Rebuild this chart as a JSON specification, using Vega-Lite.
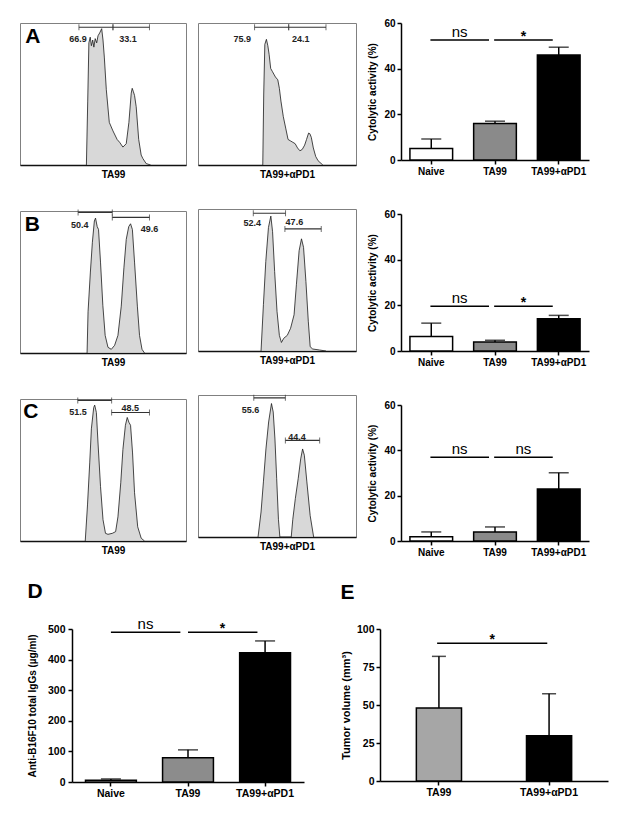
{
"$schema": "https://vega.github.io/schema/vega-lite/v6.json",
"background": "white",
"padding": {"left": 19, "top": 18, "right": 4, "bottom": 4},
"config": {
  "font": "Liberation Sans",
  "view": {"stroke": null},
  "axis": {"labelFont": "Liberation Sans", "titleFont": "Liberation Sans", "labelFontWeight": "bold", "titleFontWeight": "bold", "labelFontSize": 10, "titleFontSize": 10, "labelColor": "black", "titleColor": "black", "domainColor": "black", "tickColor": "black", "domainWidth": 1.5, "tickWidth": 1.5, "tickSize": 4, "labelPadding": 2, "grid": false, "labelOverlap": false},
  "text": {"font": "Liberation Sans"},
  "title": {"font": "Liberation Sans"}
},
"datasets": {
  "hist": [
    {"p":"A1","x":40,"y":0},{"p":"A1","x":40.8,"y":45},{"p":"A1","x":41.5,"y":86},{"p":"A1","x":42.3,"y":90},{"p":"A1","x":43,"y":84},{"p":"A1","x":43.8,"y":88},{"p":"A1","x":44.5,"y":83},{"p":"A1","x":45.3,"y":89},{"p":"A1","x":46.2,"y":86},{"p":"A1","x":47,"y":91},{"p":"A1","x":48,"y":93},{"p":"A1","x":49.2,"y":96},{"p":"A1","x":50,"y":88},{"p":"A1","x":50.8,"y":76},{"p":"A1","x":52,"y":53},{"p":"A1","x":53.8,"y":30},{"p":"A1","x":56,"y":24},{"p":"A1","x":58.5,"y":18},{"p":"A1","x":60,"y":16},{"p":"A1","x":62,"y":12.6},{"p":"A1","x":64,"y":15},{"p":"A1","x":65.6,"y":30},{"p":"A1","x":67,"y":50.6},{"p":"A1","x":67.6,"y":54},{"p":"A1","x":68.2,"y":52},{"p":"A1","x":69,"y":49},{"p":"A1","x":70,"y":41},{"p":"A1","x":71.5,"y":18},{"p":"A1","x":73,"y":7},{"p":"A1","x":74,"y":4.6},{"p":"A1","x":76,"y":1},{"p":"A1","x":78.7,"y":0},
    {"p":"A2","x":41,"y":0},{"p":"A2","x":41.6,"y":50},{"p":"A2","x":42.3,"y":85},{"p":"A2","x":43.3,"y":88.5},{"p":"A2","x":44.2,"y":84},{"p":"A2","x":45,"y":78},{"p":"A2","x":46,"y":68},{"p":"A2","x":47,"y":66},{"p":"A2","x":48,"y":64},{"p":"A2","x":49,"y":62},{"p":"A2","x":50.5,"y":60},{"p":"A2","x":51.5,"y":54},{"p":"A2","x":52.5,"y":45},{"p":"A2","x":54,"y":34},{"p":"A2","x":55.5,"y":26},{"p":"A2","x":57,"y":18},{"p":"A2","x":58.5,"y":17},{"p":"A2","x":60,"y":16},{"p":"A2","x":61.5,"y":15},{"p":"A2","x":63,"y":12},{"p":"A2","x":64.5,"y":10},{"p":"A2","x":66,"y":11},{"p":"A2","x":67.5,"y":14},{"p":"A2","x":68.7,"y":18},{"p":"A2","x":70,"y":22.5},{"p":"A2","x":70.8,"y":22},{"p":"A2","x":71.7,"y":19.5},{"p":"A2","x":73,"y":12},{"p":"A2","x":74.5,"y":6},{"p":"A2","x":76,"y":3},{"p":"A2","x":79,"y":0},
    {"p":"B1","x":40.4,"y":0},{"p":"B1","x":41,"y":29},{"p":"B1","x":42.4,"y":57},{"p":"B1","x":43.6,"y":78},{"p":"B1","x":44.8,"y":93},{"p":"B1","x":45.5,"y":95},{"p":"B1","x":46.5,"y":89},{"p":"B1","x":47.3,"y":87},{"p":"B1","x":48.5,"y":64},{"p":"B1","x":49.9,"y":33.6},{"p":"B1","x":51.3,"y":12.4},{"p":"B1","x":53,"y":4},{"p":"B1","x":55,"y":2.6},{"p":"B1","x":57,"y":5.4},{"p":"B1","x":59,"y":12.4},{"p":"B1","x":61,"y":33},{"p":"B1","x":62.6,"y":60},{"p":"B1","x":64,"y":80},{"p":"B1","x":65.5,"y":89},{"p":"B1","x":66.6,"y":91},{"p":"B1","x":67.7,"y":87},{"p":"B1","x":69,"y":64},{"p":"B1","x":70.7,"y":33},{"p":"B1","x":72,"y":12.4},{"p":"B1","x":73.5,"y":2.6},{"p":"B1","x":75,"y":0},
    {"p":"B2","x":39.9,"y":0},{"p":"B2","x":41.4,"y":32.6},{"p":"B2","x":42.9,"y":63},{"p":"B2","x":44.6,"y":87},{"p":"B2","x":46.1,"y":95},{"p":"B2","x":47.2,"y":84},{"p":"B2","x":48.5,"y":56},{"p":"B2","x":50,"y":28},{"p":"B2","x":51.5,"y":11},{"p":"B2","x":52.8,"y":6},{"p":"B2","x":54.3,"y":9},{"p":"B2","x":56.5,"y":11},{"p":"B2","x":58.6,"y":16},{"p":"B2","x":60.8,"y":25.5},{"p":"B2","x":62.3,"y":47},{"p":"B2","x":64,"y":70.6},{"p":"B2","x":65.5,"y":79},{"p":"B2","x":66.8,"y":73},{"p":"B2","x":68.3,"y":49},{"p":"B2","x":69.8,"y":21},{"p":"B2","x":71,"y":3},{"p":"B2","x":72.6,"y":1.4},{"p":"B2","x":76.9,"y":0.7},{"p":"B2","x":81,"y":0},
    {"p":"C1","x":39.3,"y":0},{"p":"C1","x":40.7,"y":26},{"p":"C1","x":42,"y":55},{"p":"C1","x":43,"y":79},{"p":"C1","x":44.4,"y":94},{"p":"C1","x":45,"y":95.7},{"p":"C1","x":46,"y":90.5},{"p":"C1","x":47,"y":69},{"p":"C1","x":48.5,"y":38.5},{"p":"C1","x":50,"y":15},{"p":"C1","x":51.5,"y":5.4},{"p":"C1","x":53,"y":4.7},{"p":"C1","x":55.6,"y":5.4},{"p":"C1","x":57.6,"y":6.6},{"p":"C1","x":59,"y":17},{"p":"C1","x":60.7,"y":41},{"p":"C1","x":62,"y":64.5},{"p":"C1","x":63.5,"y":81.5},{"p":"C1","x":64.6,"y":87},{"p":"C1","x":65.6,"y":83.6},{"p":"C1","x":66.6,"y":81.5},{"p":"C1","x":67.8,"y":62},{"p":"C1","x":69,"y":34},{"p":"C1","x":70.9,"y":10},{"p":"C1","x":73,"y":2},{"p":"C1","x":75,"y":0},
    {"p":"C2","x":38,"y":0},{"p":"C2","x":39.9,"y":17.6},{"p":"C2","x":41.4,"y":38.8},{"p":"C2","x":43,"y":62},{"p":"C2","x":44.7,"y":81},{"p":"C2","x":46.5,"y":94},{"p":"C2","x":47.6,"y":88},{"p":"C2","x":48.7,"y":69},{"p":"C2","x":49.8,"y":41},{"p":"C2","x":50.9,"y":12.5},{"p":"C2","x":51.8,"y":0},{"p":"C2","x":59,"y":0},{"p":"C2","x":60,"y":12.5},{"p":"C2","x":61.6,"y":27},{"p":"C2","x":63.4,"y":41},{"p":"C2","x":65,"y":55},{"p":"C2","x":66.2,"y":62},{"p":"C2","x":67.3,"y":57.6},{"p":"C2","x":68.9,"y":38.8},{"p":"C2","x":71,"y":15},{"p":"C2","x":73.2,"y":0}
  ],
  "gates": [
    {"p":"A1","x1":35.5,"x2":56,"y":97},{"p":"A1","x1":56,"x2":78,"y":97},
    {"p":"A2","x1":35.8,"x2":57.4,"y":97},{"p":"A2","x1":57.4,"x2":81,"y":97},
    {"p":"B1","x1":35,"x2":55.6,"y":99},{"p":"B1","x1":55.6,"x2":78,"y":95.5},
    {"p":"B2","x1":35,"x2":55.4,"y":97},{"p":"B2","x1":55,"x2":78,"y":86},
    {"p":"C1","x1":34.8,"x2":55.2,"y":99},{"p":"C1","x1":55.2,"x2":78,"y":90.5},
    {"p":"C2","x1":35.3,"x2":55.3,"y":98},{"p":"C2","x1":55.3,"x2":77,"y":68}
  ],
  "glabels": [
    {"p":"A1","x":35,"y":89,"t":"66.9"},{"p":"A1","x":65,"y":89,"t":"33.1"},
    {"p":"A2","x":28,"y":89,"t":"75.9"},{"p":"A2","x":65,"y":89,"t":"24.1"},
    {"p":"B1","x":36,"y":90,"t":"50.4"},{"p":"B1","x":78,"y":87,"t":"49.6"},
    {"p":"B2","x":34.3,"y":90,"t":"52.4"},{"p":"B2","x":61,"y":91,"t":"47.6"},
    {"p":"C1","x":35,"y":90.5,"t":"51.5"},{"p":"C1","x":66.4,"y":93.4,"t":"48.5"},
    {"p":"C2","x":33.3,"y":89.4,"t":"55.6"},{"p":"C2","x":62.7,"y":70.6,"t":"44.4"}
  ],
  "letters": [
    {"p":"A1","x":7.8,"y":90,"t":"A"},{"p":"B1","x":7.5,"y":90,"t":"B"},{"p":"C1","x":6.5,"y":90.5,"t":"C"}
  ],
  "bars": [
    {"c":"A","g":"Naive","v":5,"e":9.2},{"c":"A","g":"TA99","v":16,"e":17},{"c":"A","g":"TA99+αPD1","v":46,"e":49.4},
    {"c":"B","g":"Naive","v":6.4,"e":12.2},{"c":"B","g":"TA99","v":3.9,"e":4.7},{"c":"B","g":"TA99+αPD1","v":14.1,"e":15.6},
    {"c":"C","g":"Naive","v":1.9,"e":4},{"c":"C","g":"TA99","v":4,"e":6.2},{"c":"C","g":"TA99+αPD1","v":22.9,"e":30.1},
    {"c":"D","g":"Naive","v":6,"e":10},{"c":"D","g":"TA99","v":79,"e":105},{"c":"D","g":"TA99+αPD1","v":422,"e":461},
    {"c":"E","g":"TA99","v":48,"e":82},{"c":"E","g":"TA99+αPD1","v":29.7,"e":57.4}
  ],
  "sig": [
    {"c":"A","from":"Naive","to":"TA99","y":52.6,"label":"ns"},{"c":"A","from":"TA99","to":"TA99+αPD1","y":52.6,"label":"*"},
    {"c":"B","from":"Naive","to":"TA99","y":19.6,"label":"ns"},{"c":"B","from":"TA99","to":"TA99+αPD1","y":19.6,"label":"*"},
    {"c":"C","from":"Naive","to":"TA99","y":37,"label":"ns"},{"c":"C","from":"TA99","to":"TA99+αPD1","y":37,"label":"ns"},
    {"c":"D","from":"Naive","to":"TA99","y":489,"label":"ns"},{"c":"D","from":"TA99","to":"TA99+αPD1","y":489,"label":"*"},
    {"c":"E","from":"TA99","to":"TA99+αPD1","y":90.6,"label":"*"}
  ]
},
"vconcat": [
 {"hconcat": [
  {"vconcat": [
      {"width":166,"height":142,"view":{"stroke":"#808080","strokeWidth":1},
       "layer":[
        {"data":{"name":"hist"},"transform":[{"filter":"datum.p == 'A1'"}],"mark":{"type":"area","color":"#c8c8c8","line":{"color":"#1a1a1a","strokeWidth":0.8}},
         "encoding":{"x":{"field":"x","type":"quantitative","scale":{"domain":[0,100],"nice":false,"zero":false},"axis":{"title":"TA99","labels":false,"ticks":false,"domainColor":"#111","titlePadding":4,"titleX":93}},
                     "y":{"field":"y","type":"quantitative","scale":{"domain":[0,100],"nice":false},"axis":null}}},
        {"data":{"name":"gates"},"transform":[{"filter":"datum.p == 'A1'"}],"mark":{"type":"rule","color":"#333","strokeWidth":1.2},
         "encoding":{"x":{"field":"x1","type":"quantitative"},"x2":{"field":"x2"},"y":{"field":"y","type":"quantitative","axis":null}}},
        {"data":{"name":"gates"},"transform":[{"filter":"datum.p == 'A1'"}],"mark":{"type":"tick","orient":"vertical","color":"#333","size":6,"thickness":1},
         "encoding":{"x":{"field":"x1","type":"quantitative"},"y":{"field":"y","type":"quantitative","axis":null}}},
        {"data":{"name":"gates"},"transform":[{"filter":"datum.p == 'A1'"}],"mark":{"type":"tick","orient":"vertical","color":"#333","size":6,"thickness":1},
         "encoding":{"x":{"field":"x2","type":"quantitative"},"y":{"field":"y","type":"quantitative","axis":null}}},
        {"data":{"name":"glabels"},"transform":[{"filter":"datum.p == 'A1'"}],"mark":{"type":"text","fontSize":9,"fontWeight":"bold","color":"#222"},
         "encoding":{"x":{"field":"x","type":"quantitative"},"y":{"field":"y","type":"quantitative","axis":null},"text":{"field":"t"}}},
        {"data":{"name":"letters"},"transform":[{"filter":"datum.p == 'A1'"}],"mark":{"type":"text","fontSize":21,"fontWeight":"bold","color":"black"},
         "encoding":{"x":{"field":"x","type":"quantitative"},"y":{"field":"y","type":"quantitative","axis":null},"text":{"field":"t"}}}
       ]},
      {"width":166,"height":142,"view":{"stroke":"#808080","strokeWidth":1},
       "layer":[
        {"data":{"name":"hist"},"transform":[{"filter":"datum.p == 'B1'"}],"mark":{"type":"area","color":"#c8c8c8","line":{"color":"#1a1a1a","strokeWidth":0.8}},
         "encoding":{"x":{"field":"x","type":"quantitative","scale":{"domain":[0,100],"nice":false,"zero":false},"axis":{"title":"TA99","labels":false,"ticks":false,"domainColor":"#111","titlePadding":4,"titleX":93}},
                     "y":{"field":"y","type":"quantitative","scale":{"domain":[0,100],"nice":false},"axis":null}}},
        {"data":{"name":"gates"},"transform":[{"filter":"datum.p == 'B1'"}],"mark":{"type":"rule","color":"#333","strokeWidth":1.2},
         "encoding":{"x":{"field":"x1","type":"quantitative"},"x2":{"field":"x2"},"y":{"field":"y","type":"quantitative","axis":null}}},
        {"data":{"name":"gates"},"transform":[{"filter":"datum.p == 'B1'"}],"mark":{"type":"tick","orient":"vertical","color":"#333","size":6,"thickness":1},
         "encoding":{"x":{"field":"x1","type":"quantitative"},"y":{"field":"y","type":"quantitative","axis":null}}},
        {"data":{"name":"gates"},"transform":[{"filter":"datum.p == 'B1'"}],"mark":{"type":"tick","orient":"vertical","color":"#333","size":6,"thickness":1},
         "encoding":{"x":{"field":"x2","type":"quantitative"},"y":{"field":"y","type":"quantitative","axis":null}}},
        {"data":{"name":"glabels"},"transform":[{"filter":"datum.p == 'B1'"}],"mark":{"type":"text","fontSize":9,"fontWeight":"bold","color":"#222"},
         "encoding":{"x":{"field":"x","type":"quantitative"},"y":{"field":"y","type":"quantitative","axis":null},"text":{"field":"t"}}},
        {"data":{"name":"letters"},"transform":[{"filter":"datum.p == 'B1'"}],"mark":{"type":"text","fontSize":21,"fontWeight":"bold","color":"black"},
         "encoding":{"x":{"field":"x","type":"quantitative"},"y":{"field":"y","type":"quantitative","axis":null},"text":{"field":"t"}}}
       ]},
      {"width":166,"height":142,"view":{"stroke":"#808080","strokeWidth":1},
       "layer":[
        {"data":{"name":"hist"},"transform":[{"filter":"datum.p == 'C1'"}],"mark":{"type":"area","color":"#c8c8c8","line":{"color":"#1a1a1a","strokeWidth":0.8}},
         "encoding":{"x":{"field":"x","type":"quantitative","scale":{"domain":[0,100],"nice":false,"zero":false},"axis":{"title":"TA99","labels":false,"ticks":false,"domainColor":"#111","titlePadding":4,"titleX":93}},
                     "y":{"field":"y","type":"quantitative","scale":{"domain":[0,100],"nice":false},"axis":null}}},
        {"data":{"name":"gates"},"transform":[{"filter":"datum.p == 'C1'"}],"mark":{"type":"rule","color":"#333","strokeWidth":1.2},
         "encoding":{"x":{"field":"x1","type":"quantitative"},"x2":{"field":"x2"},"y":{"field":"y","type":"quantitative","axis":null}}},
        {"data":{"name":"gates"},"transform":[{"filter":"datum.p == 'C1'"}],"mark":{"type":"tick","orient":"vertical","color":"#333","size":6,"thickness":1},
         "encoding":{"x":{"field":"x1","type":"quantitative"},"y":{"field":"y","type":"quantitative","axis":null}}},
        {"data":{"name":"gates"},"transform":[{"filter":"datum.p == 'C1'"}],"mark":{"type":"tick","orient":"vertical","color":"#333","size":6,"thickness":1},
         "encoding":{"x":{"field":"x2","type":"quantitative"},"y":{"field":"y","type":"quantitative","axis":null}}},
        {"data":{"name":"glabels"},"transform":[{"filter":"datum.p == 'C1'"}],"mark":{"type":"text","fontSize":9,"fontWeight":"bold","color":"#222"},
         "encoding":{"x":{"field":"x","type":"quantitative"},"y":{"field":"y","type":"quantitative","axis":null},"text":{"field":"t"}}},
        {"data":{"name":"letters"},"transform":[{"filter":"datum.p == 'C1'"}],"mark":{"type":"text","fontSize":21,"fontWeight":"bold","color":"black"},
         "encoding":{"x":{"field":"x","type":"quantitative"},"y":{"field":"y","type":"quantitative","axis":null},"text":{"field":"t"}}}
       ]}
  ], "spacing": 28},
  {"vconcat": [
      {"width":158,"height":142,"view":{"stroke":"#808080","strokeWidth":1},
       "layer":[
        {"data":{"name":"hist"},"transform":[{"filter":"datum.p == 'A2'"}],"mark":{"type":"area","color":"#c8c8c8","line":{"color":"#1a1a1a","strokeWidth":0.8}},
         "encoding":{"x":{"field":"x","type":"quantitative","scale":{"domain":[0,100],"nice":false,"zero":false},"axis":{"title":"TA99+αPD1","labels":false,"ticks":false,"domainColor":"#111","titlePadding":4,"titleX":89}},
                     "y":{"field":"y","type":"quantitative","scale":{"domain":[0,100],"nice":false},"axis":null}}},
        {"data":{"name":"gates"},"transform":[{"filter":"datum.p == 'A2'"}],"mark":{"type":"rule","color":"#333","strokeWidth":1.2},
         "encoding":{"x":{"field":"x1","type":"quantitative"},"x2":{"field":"x2"},"y":{"field":"y","type":"quantitative","axis":null}}},
        {"data":{"name":"gates"},"transform":[{"filter":"datum.p == 'A2'"}],"mark":{"type":"tick","orient":"vertical","color":"#333","size":6,"thickness":1},
         "encoding":{"x":{"field":"x1","type":"quantitative"},"y":{"field":"y","type":"quantitative","axis":null}}},
        {"data":{"name":"gates"},"transform":[{"filter":"datum.p == 'A2'"}],"mark":{"type":"tick","orient":"vertical","color":"#333","size":6,"thickness":1},
         "encoding":{"x":{"field":"x2","type":"quantitative"},"y":{"field":"y","type":"quantitative","axis":null}}},
        {"data":{"name":"glabels"},"transform":[{"filter":"datum.p == 'A2'"}],"mark":{"type":"text","fontSize":9,"fontWeight":"bold","color":"#222"},
         "encoding":{"x":{"field":"x","type":"quantitative"},"y":{"field":"y","type":"quantitative","axis":null},"text":{"field":"t"}}}
       ]},
      {"width":158,"height":142,"view":{"stroke":"#808080","strokeWidth":1},
       "layer":[
        {"data":{"name":"hist"},"transform":[{"filter":"datum.p == 'B2'"}],"mark":{"type":"area","color":"#c8c8c8","line":{"color":"#1a1a1a","strokeWidth":0.8}},
         "encoding":{"x":{"field":"x","type":"quantitative","scale":{"domain":[0,100],"nice":false,"zero":false},"axis":{"title":"TA99+αPD1","labels":false,"ticks":false,"domainColor":"#111","titlePadding":4,"titleX":89}},
                     "y":{"field":"y","type":"quantitative","scale":{"domain":[0,100],"nice":false},"axis":null}}},
        {"data":{"name":"gates"},"transform":[{"filter":"datum.p == 'B2'"}],"mark":{"type":"rule","color":"#333","strokeWidth":1.2},
         "encoding":{"x":{"field":"x1","type":"quantitative"},"x2":{"field":"x2"},"y":{"field":"y","type":"quantitative","axis":null}}},
        {"data":{"name":"gates"},"transform":[{"filter":"datum.p == 'B2'"}],"mark":{"type":"tick","orient":"vertical","color":"#333","size":6,"thickness":1},
         "encoding":{"x":{"field":"x1","type":"quantitative"},"y":{"field":"y","type":"quantitative","axis":null}}},
        {"data":{"name":"gates"},"transform":[{"filter":"datum.p == 'B2'"}],"mark":{"type":"tick","orient":"vertical","color":"#333","size":6,"thickness":1},
         "encoding":{"x":{"field":"x2","type":"quantitative"},"y":{"field":"y","type":"quantitative","axis":null}}},
        {"data":{"name":"glabels"},"transform":[{"filter":"datum.p == 'B2'"}],"mark":{"type":"text","fontSize":9,"fontWeight":"bold","color":"#222"},
         "encoding":{"x":{"field":"x","type":"quantitative"},"y":{"field":"y","type":"quantitative","axis":null},"text":{"field":"t"}}}
       ]},
      {"width":158,"height":142,"view":{"stroke":"#808080","strokeWidth":1},
       "layer":[
        {"data":{"name":"hist"},"transform":[{"filter":"datum.p == 'C2'"}],"mark":{"type":"area","color":"#c8c8c8","line":{"color":"#1a1a1a","strokeWidth":0.8}},
         "encoding":{"x":{"field":"x","type":"quantitative","scale":{"domain":[0,100],"nice":false,"zero":false},"axis":{"title":"TA99+αPD1","labels":false,"ticks":false,"domainColor":"#111","titlePadding":4,"titleX":89}},
                     "y":{"field":"y","type":"quantitative","scale":{"domain":[0,100],"nice":false},"axis":null}}},
        {"data":{"name":"gates"},"transform":[{"filter":"datum.p == 'C2'"}],"mark":{"type":"rule","color":"#333","strokeWidth":1.2},
         "encoding":{"x":{"field":"x1","type":"quantitative"},"x2":{"field":"x2"},"y":{"field":"y","type":"quantitative","axis":null}}},
        {"data":{"name":"gates"},"transform":[{"filter":"datum.p == 'C2'"}],"mark":{"type":"tick","orient":"vertical","color":"#333","size":6,"thickness":1},
         "encoding":{"x":{"field":"x1","type":"quantitative"},"y":{"field":"y","type":"quantitative","axis":null}}},
        {"data":{"name":"gates"},"transform":[{"filter":"datum.p == 'C2'"}],"mark":{"type":"tick","orient":"vertical","color":"#333","size":6,"thickness":1},
         "encoding":{"x":{"field":"x2","type":"quantitative"},"y":{"field":"y","type":"quantitative","axis":null}}},
        {"data":{"name":"glabels"},"transform":[{"filter":"datum.p == 'C2'"}],"mark":{"type":"text","fontSize":9,"fontWeight":"bold","color":"#222"},
         "encoding":{"x":{"field":"x","type":"quantitative"},"y":{"field":"y","type":"quantitative","axis":null},"text":{"field":"t"}}}
       ]}
  ], "spacing": 28},
  {"vconcat": [
    {"width":188,"height":137,
     "layer":[
      {"data":{"name":"bars"},"transform":[{"filter":"datum.c == 'A'"}],"mark":{"type":"bar","stroke":"black","strokeWidth":1.5},
       "encoding":{"x":{"field":"g","type":"nominal","scale":{"domain":["Naive","TA99","TA99+αPD1"],"paddingInner":0.33,"paddingOuter":0.14},"axis":{"title":null,"labelAngle":0}},
                   "y":{"field":"v","type":"quantitative","scale":{"domain":[0,60],"nice":false},"axis":{"title":"Cytolytic activity (%)","values":[0,20,40,60],"tickCount":4,"titlePadding":6}},
                   "fill":{"field":"g","type":"nominal","scale":{"domain":["Naive","TA99","TA99+αPD1"],"range":["#ffffff","#8a8a8a","#000000"]},"legend":null}}},
      {"data":{"name":"bars"},"transform":[{"filter":"datum.c == 'A'"}],"mark":{"type":"rule","color":"black","strokeWidth":1.5},
       "encoding":{"x":{"field":"g","type":"nominal"},"y":{"field":"v","type":"quantitative"},"y2":{"field":"e"}}},
      {"data":{"name":"bars"},"transform":[{"filter":"datum.c == 'A'"}],"mark":{"type":"tick","color":"black","thickness":1.5,"size":20},
       "encoding":{"x":{"field":"g","type":"nominal"},"y":{"field":"e","type":"quantitative"}}},
      {"data":{"name":"sig"},"transform":[{"filter":"datum.c == 'A'"}],"mark":{"type":"rule","color":"black","strokeWidth":1.5},
       "encoding":{"x":{"field":"from","type":"nominal","bandPosition":0.48},"x2":{"field":"to","bandPosition":0.36},"y":{"field":"y","type":"quantitative"}}},
      {"data":{"name":"sig"},"transform":[{"filter":"datum.c == 'A' && datum.label == 'ns'"}],"mark":{"type":"text","fontSize":15,"baseline":"alphabetic","dy":-3,"color":"black"},
       "encoding":{"x":{"field":"from","type":"nominal","bandPosition":1.165},"y":{"field":"y","type":"quantitative"},"text":{"field":"label"}}},
      {"data":{"name":"sig"},"transform":[{"filter":"datum.c == 'A' && datum.label == '*'"}],"mark":{"type":"text","fontSize":14,"fontWeight":"bold","baseline":"alphabetic","dy":1,"color":"black"},
       "encoding":{"x":{"field":"from","type":"nominal","bandPosition":1.165},"y":{"field":"y","type":"quantitative"},"text":{"field":"label"}}}
     ]},
    {"width":188,"height":137,
     "layer":[
      {"data":{"name":"bars"},"transform":[{"filter":"datum.c == 'B'"}],"mark":{"type":"bar","stroke":"black","strokeWidth":1.5},
       "encoding":{"x":{"field":"g","type":"nominal","scale":{"domain":["Naive","TA99","TA99+αPD1"],"paddingInner":0.33,"paddingOuter":0.14},"axis":{"title":null,"labelAngle":0}},
                   "y":{"field":"v","type":"quantitative","scale":{"domain":[0,60],"nice":false},"axis":{"title":"Cytolytic activity (%)","values":[0,20,40,60],"tickCount":4,"titlePadding":6}},
                   "fill":{"field":"g","type":"nominal","scale":{"domain":["Naive","TA99","TA99+αPD1"],"range":["#ffffff","#8a8a8a","#000000"]},"legend":null}}},
      {"data":{"name":"bars"},"transform":[{"filter":"datum.c == 'B'"}],"mark":{"type":"rule","color":"black","strokeWidth":1.5},
       "encoding":{"x":{"field":"g","type":"nominal"},"y":{"field":"v","type":"quantitative"},"y2":{"field":"e"}}},
      {"data":{"name":"bars"},"transform":[{"filter":"datum.c == 'B'"}],"mark":{"type":"tick","color":"black","thickness":1.5,"size":20},
       "encoding":{"x":{"field":"g","type":"nominal"},"y":{"field":"e","type":"quantitative"}}},
      {"data":{"name":"sig"},"transform":[{"filter":"datum.c == 'B'"}],"mark":{"type":"rule","color":"black","strokeWidth":1.5},
       "encoding":{"x":{"field":"from","type":"nominal","bandPosition":0.48},"x2":{"field":"to","bandPosition":0.36},"y":{"field":"y","type":"quantitative"}}},
      {"data":{"name":"sig"},"transform":[{"filter":"datum.c == 'B' && datum.label == 'ns'"}],"mark":{"type":"text","fontSize":15,"baseline":"alphabetic","dy":-3,"color":"black"},
       "encoding":{"x":{"field":"from","type":"nominal","bandPosition":1.165},"y":{"field":"y","type":"quantitative"},"text":{"field":"label"}}},
      {"data":{"name":"sig"},"transform":[{"filter":"datum.c == 'B' && datum.label == '*'"}],"mark":{"type":"text","fontSize":14,"fontWeight":"bold","baseline":"alphabetic","dy":1,"color":"black"},
       "encoding":{"x":{"field":"from","type":"nominal","bandPosition":1.165},"y":{"field":"y","type":"quantitative"},"text":{"field":"label"}}}
     ]},
    {"width":188,"height":136,
     "layer":[
      {"data":{"name":"bars"},"transform":[{"filter":"datum.c == 'C'"}],"mark":{"type":"bar","stroke":"black","strokeWidth":1.5},
       "encoding":{"x":{"field":"g","type":"nominal","scale":{"domain":["Naive","TA99","TA99+αPD1"],"paddingInner":0.33,"paddingOuter":0.14},"axis":{"title":null,"labelAngle":0}},
                   "y":{"field":"v","type":"quantitative","scale":{"domain":[0,60],"nice":false},"axis":{"title":"Cytolytic activity (%)","values":[0,20,40,60],"tickCount":4,"titlePadding":6}},
                   "fill":{"field":"g","type":"nominal","scale":{"domain":["Naive","TA99","TA99+αPD1"],"range":["#ffffff","#8a8a8a","#000000"]},"legend":null}}},
      {"data":{"name":"bars"},"transform":[{"filter":"datum.c == 'C'"}],"mark":{"type":"rule","color":"black","strokeWidth":1.5},
       "encoding":{"x":{"field":"g","type":"nominal"},"y":{"field":"v","type":"quantitative"},"y2":{"field":"e"}}},
      {"data":{"name":"bars"},"transform":[{"filter":"datum.c == 'C'"}],"mark":{"type":"tick","color":"black","thickness":1.5,"size":20},
       "encoding":{"x":{"field":"g","type":"nominal"},"y":{"field":"e","type":"quantitative"}}},
      {"data":{"name":"sig"},"transform":[{"filter":"datum.c == 'C'"}],"mark":{"type":"rule","color":"black","strokeWidth":1.5},
       "encoding":{"x":{"field":"from","type":"nominal","bandPosition":0.48},"x2":{"field":"to","bandPosition":0.36},"y":{"field":"y","type":"quantitative"}}},
      {"data":{"name":"sig"},"transform":[{"filter":"datum.c == 'C' && datum.label == 'ns'"}],"mark":{"type":"text","fontSize":15,"baseline":"alphabetic","dy":-3,"color":"black"},
       "encoding":{"x":{"field":"from","type":"nominal","bandPosition":1.165},"y":{"field":"y","type":"quantitative"},"text":{"field":"label"}}}
     ]}
  ], "spacing": 33, "resolve": {"scale": {"fill": "independent"}}}
 ], "spacing": 10, "resolve": {"scale": {"fill": "independent"}}},
 {"hconcat": [
   {"hconcat": [
     {"width": 1, "height": 10, "data": {"values": []}, "mark": "point"},
     {"width":232,"height":153,
      "title":{"text":"D","anchor":"start","frame":"bounds","fontSize":21,"fontWeight":"bold","offset":15,"color":"black"},
      "layer":[
       {"data":{"name":"bars"},"transform":[{"filter":"datum.c == 'D'"}],"mark":{"type":"bar","stroke":"black","strokeWidth":1.5},
        "encoding":{"x":{"field":"g","type":"nominal","scale":{"domain":["Naive","TA99","TA99+αPD1"],"paddingInner":0.34,"paddingOuter":0.175},"axis":{"title":null,"labelAngle":0,"labelFontSize":10.5}},
                    "y":{"field":"v","type":"quantitative","scale":{"domain":[0,500],"nice":false},"axis":{"title":"Anti-B16F10 total IgGs (µg/ml)","values":[0,100,200,300,400,500],"tickCount":6,"titlePadding":10,"labelFontSize":10.5,"labelPadding":3}},
                    "fill":{"field":"g","type":"nominal","scale":{"domain":["Naive","TA99","TA99+αPD1"],"range":["#ffffff","#8c8c8c","#000000"]},"legend":null}}},
       {"data":{"name":"bars"},"transform":[{"filter":"datum.c == 'D'"}],"mark":{"type":"rule","color":"black","strokeWidth":1.5},
        "encoding":{"x":{"field":"g","type":"nominal"},"y":{"field":"v","type":"quantitative"},"y2":{"field":"e"}}},
       {"data":{"name":"bars"},"transform":[{"filter":"datum.c == 'D'"}],"mark":{"type":"tick","color":"black","thickness":1.5,"size":20},
        "encoding":{"x":{"field":"g","type":"nominal"},"y":{"field":"e","type":"quantitative"}}},
       {"data":{"name":"sig"},"transform":[{"filter":"datum.c == 'D'"}],"mark":{"type":"rule","color":"black","strokeWidth":1.5},
        "encoding":{"x":{"field":"from","type":"nominal","bandPosition":0.5},"x2":{"field":"to","bandPosition":0.35},"y":{"field":"y","type":"quantitative"}}},
       {"data":{"name":"sig"},"transform":[{"filter":"datum.c == 'D' && datum.label == 'ns'"}],"mark":{"type":"text","fontSize":15,"baseline":"alphabetic","dy":-3,"color":"black"},
        "encoding":{"x":{"field":"from","type":"nominal","bandPosition":1.18},"y":{"field":"y","type":"quantitative"},"text":{"field":"label"}}},
       {"data":{"name":"sig"},"transform":[{"filter":"datum.c == 'D' && datum.label == '*'"}],"mark":{"type":"text","fontSize":14,"fontWeight":"bold","baseline":"alphabetic","dy":1,"color":"black"},
        "encoding":{"x":{"field":"from","type":"nominal","bandPosition":1.18},"y":{"field":"y","type":"quantitative"},"text":{"field":"label"}}}
      ]}
   ], "spacing": 6},
   {"width":228,"height":152,
    "title":{"text":"E","anchor":"start","frame":"bounds","fontSize":21,"fontWeight":"bold","offset":21,"color":"black"},
    "layer":[
     {"data":{"name":"bars"},"transform":[{"filter":"datum.c == 'E'"}],"mark":{"type":"bar","stroke":"black","strokeWidth":1.5},
      "encoding":{"x":{"field":"g","type":"nominal","scale":{"domain":["TA99","TA99+αPD1"],"paddingInner":0.59,"paddingOuter":0.33},"axis":{"title":null,"labelAngle":0,"labelFontSize":10.5}},
                  "y":{"field":"v","type":"quantitative","scale":{"domain":[0,100],"nice":false},"axis":{"title":"Tumor volume (mm³)","values":[0,25,50,75,100],"tickCount":5,"titlePadding":5,"titleFontSize":11,"labelFontSize":10.5}},
                  "fill":{"field":"g","type":"nominal","scale":{"domain":["TA99","TA99+αPD1"],"range":["#a6a6a6","#000000"]},"legend":null}}},
     {"data":{"name":"bars"},"transform":[{"filter":"datum.c == 'E'"}],"mark":{"type":"rule","color":"black","strokeWidth":1.5},
      "encoding":{"x":{"field":"g","type":"nominal"},"y":{"field":"v","type":"quantitative"},"y2":{"field":"e"}}},
     {"data":{"name":"bars"},"transform":[{"filter":"datum.c == 'E'"}],"mark":{"type":"tick","color":"black","thickness":1.5,"size":14},
      "encoding":{"x":{"field":"g","type":"nominal"},"y":{"field":"e","type":"quantitative"}}},
     {"data":{"name":"sig"},"transform":[{"filter":"datum.c == 'E'"}],"mark":{"type":"rule","color":"black","strokeWidth":1.5},
      "encoding":{"x":{"field":"from","type":"nominal","bandPosition":0.46},"x2":{"field":"to","bandPosition":0.46},"y":{"field":"y","type":"quantitative"}}},
     {"data":{"name":"sig"},"transform":[{"filter":"datum.c == 'E'"}],"mark":{"type":"text","fontSize":14,"fontWeight":"bold","baseline":"alphabetic","dy":1,"color":"black"},
      "encoding":{"x":{"field":"from","type":"nominal","bandPosition":1.68},"y":{"field":"y","type":"quantitative"},"text":{"field":"label"}}}
    ]}
 ], "spacing": 36, "resolve": {"scale": {"fill": "independent"}}}
],
"spacing": 24,
"resolve": {"scale": {"fill": "independent"}}
}
